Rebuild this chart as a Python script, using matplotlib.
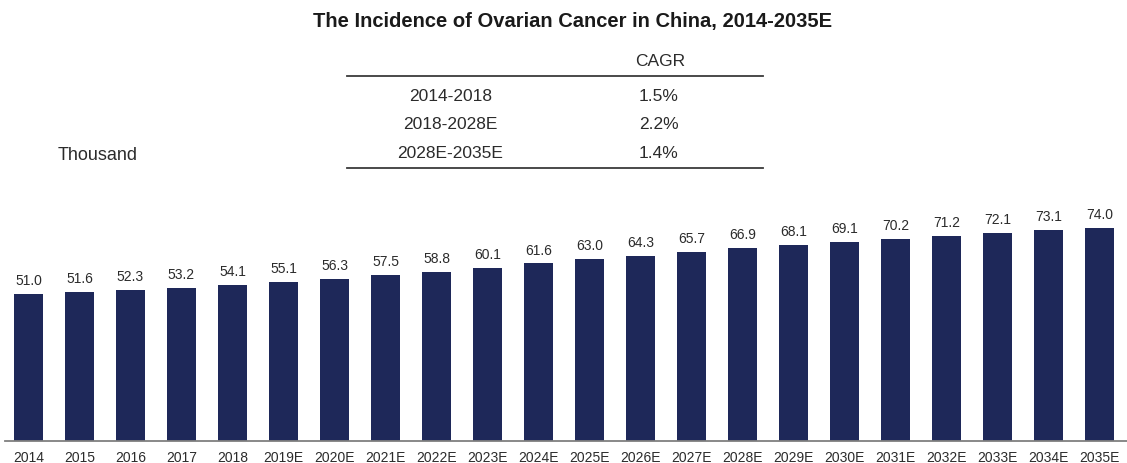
import matplotlib
matplotlib.use("Agg")
import matplotlib.pyplot as plt
from matplotlib.lines import Line2D

plt.rcParams['font.family'] = ['Liberation Sans', 'DejaVu Sans']

years = ["2014", "2015", "2016", "2017", "2018", "2019E", "2020E", "2021E", "2022E",
         "2023E", "2024E", "2025E", "2026E", "2027E", "2028E", "2029E", "2030E",
         "2031E", "2032E", "2033E", "2034E", "2035E"]
values = [51.0, 51.6, 52.3, 53.2, 54.1, 55.1, 56.3, 57.5, 58.8, 60.1, 61.6, 63.0,
          64.3, 65.7, 66.9, 68.1, 69.1, 70.2, 71.2, 72.1, 73.1, 74.0]
cagr_periods = ["2014-2018", "2018-2028E", "2028E-2035E"]
cagr_values = ["1.5%", "2.2%", "1.4%"]

W, H = 1127, 464
fig = plt.figure(figsize=(W / 100, H / 100), dpi=100)

def fx(px):
    return px / W

def fy(py):
    return 1 - py / H

bar_color = "#1E2859"
text_color = "#2B2B2B"

# axes placement (pixels)
ax_left, ax_right = 5, 1127
ax_bottom, ax_top = 441.7, 200
ax = fig.add_axes([fx(ax_left), fy(ax_bottom), (ax_right - ax_left) / W, (ax_bottom - ax_top) / H])
x = list(range(len(years)))
bars = ax.bar(x, values, width=0.57, color=bar_color, zorder=2)
ax.set_xlim(-0.46, 21.54)
ax.set_ylim(0, 84)
for s in ["top", "right", "left"]:
    ax.spines[s].set_visible(False)
ax.spines["bottom"].set_color("#7F7F7F")
ax.spines["bottom"].set_linewidth(1.3)
ax.set_yticks([])
ax.set_xticks(x)
ax.set_xticklabels(years, fontsize=10, color=text_color)
ax.tick_params(axis="x", length=0, pad=7)
for xi, v in zip(x, values):
    ax.annotate(f"{v:.1f}", (xi, v), xytext=(0, 5), textcoords="offset points",
                ha="center", va="bottom", fontsize=10, color=text_color)

# title
fig.text(fx(573), fy(21), "The Incidence of Ovarian Cancer in China, 2014-2035E",
         ha="center", va="center", fontsize=14.5, fontweight="bold", color="#1A1A1A")

# CAGR table
fig.text(fx(660), fy(61.3), "CAGR", ha="center", va="center", fontsize=12.5, color=text_color)
fig.add_artist(Line2D([fx(347), fx(763)], [fy(77), fy(77)], color="#3A3A3A", lw=1.3))
fig.add_artist(Line2D([fx(347), fx(763)], [fy(169), fy(169)], color="#3A3A3A", lw=1.3))
row_y = [96.5, 125, 154]
for ry, p, c in zip(row_y, cagr_periods, cagr_values):
    fig.text(fx(450.5), fy(ry), p, ha="center", va="center", fontsize=12.5, color=text_color)
    fig.text(fx(659), fy(ry), c, ha="center", va="center", fontsize=12.5, color=text_color)

fig.text(fx(58), fy(155.5), "Thousand", ha="left", va="center", fontsize=13, color=text_color)

fig.savefig("out.png", dpi=100)
